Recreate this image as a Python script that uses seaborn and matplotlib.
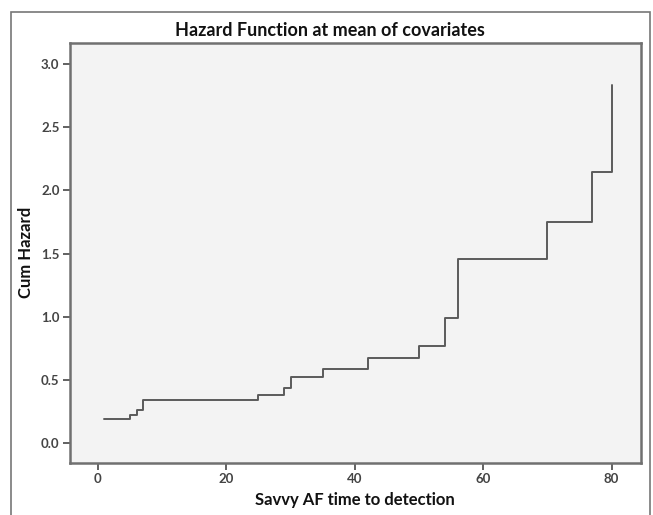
import matplotlib
matplotlib.use("Agg")
import matplotlib.pyplot as plt
from matplotlib.patches import Rectangle
import seaborn as sns
import pandas as pd

# Data (step points, steps-post)
time_points = [1, 5, 6, 7, 25, 29, 30, 35, 42, 50, 54, 56, 70, 77, 80]
cum_hazard = [0.19, 0.22, 0.26, 0.34, 0.38, 0.43, 0.52, 0.58, 0.67, 0.77, 0.99, 1.46, 1.75, 2.15, 2.84]
x_ticks = [0, 20, 40, 60, 80]
y_ticks = [0.0, 0.5, 1.0, 1.5, 2.0, 2.5, 3.0]

title = "Hazard Function at mean of covariates"
x_label = "Savvy AF time to detection"
y_label = "Cum Hazard"

sns.set_theme(style="white")
plt.rcParams['font.family'] = ['Lato', 'DejaVu Sans']

df = pd.DataFrame({"time": time_points, "hazard": cum_hazard})

fig = plt.figure(figsize=(6.53, 5.15), dpi=100)
W, H = 653, 515
left, right, top, bottom = 70, 640.5, 43, 462.5
ax = fig.add_axes([left / W, 1 - bottom / H, (right - left) / W, (bottom - top) / H])
ax.set_facecolor("#f3f3f3")

sns.lineplot(data=df, x="time", y="hazard", drawstyle="steps-post",
             color="#5a5a5a", linewidth=1.4, ax=ax)

ax.set_xlim(-4.36, 84.5)
ax.set_ylim(-0.158, 3.17)
ax.set_xticks(x_ticks)
ax.set_xticklabels([str(v) for v in x_ticks])
ax.set_yticks(y_ticks)
ax.set_yticklabels([f"{v:.1f}" for v in y_ticks])

for s in ax.spines.values():
    s.set_visible(True)
    s.set_color("#707070")
    s.set_linewidth(1.8)

ax.tick_params(axis="both", which="major", direction="out", length=5, width=1.3,
               color="#555555", labelsize=9.5, labelcolor="#444444", pad=2.5,
               bottom=True, left=True)
for lab in ax.get_xticklabels() + ax.get_yticklabels():
    lab.set_fontweight("bold")

ax.set_xlabel(x_label, fontsize=12, fontweight="bold", color="#111111", labelpad=5)
ax.set_ylabel(y_label, fontsize=12, fontweight="bold", color="#111111", labelpad=5)

fig.text(0.506, 1 - 31 / H, title, ha="center", va="center",
         fontsize=13, fontweight="bold", color="#111111")

fig.add_artist(Rectangle((11 / W, -0.05), 639 / W, 1.05 - 12 / H,
                         transform=fig.transFigure, fill=False,
                         edgecolor="#777777", linewidth=1.2))

fig.savefig("out.png", dpi=100)
